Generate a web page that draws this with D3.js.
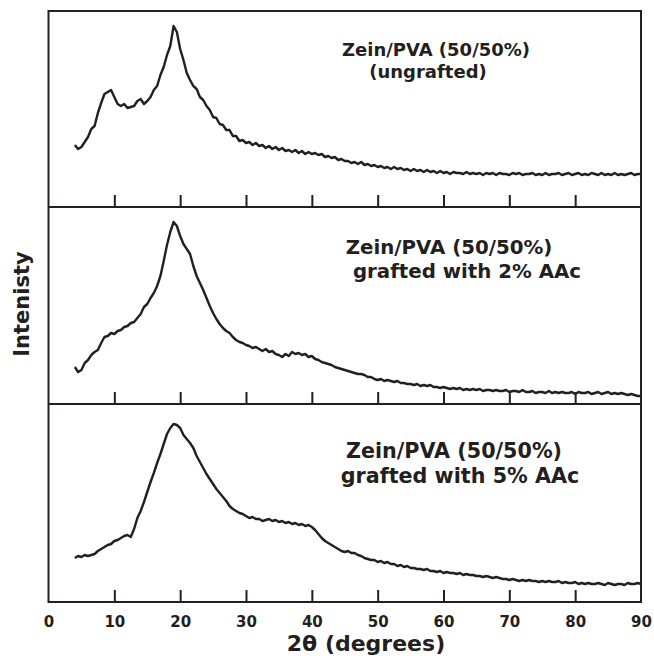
<!DOCTYPE html>
<html><head><meta charset="utf-8">
<script src="https://cdn.jsdelivr.net/npm/d3@7"></script>
<style>
html,body{margin:0;padding:0;background:#fff;}
svg{display:block;}
text{font-family:"DejaVu Sans",sans-serif;font-weight:bold;fill:#231f20;}
</style></head>
<body>
<svg id="chart" width="654" height="658"></svg>
<script>
// 2θ sampling grid (degrees)
const angleStart = 4, angleStep = 0.5;
const xTicks = [0, 10, 20, 30, 40, 50, 60, 70, 80, 90];
const panelLabels = [
  ["Zein/PVA (50/50%)", "(ungrafted)"],
  ["Zein/PVA (50/50%)", "grafted with 2% AAc"],
  ["Zein/PVA (50/50%)", "grafted with 5% AAc"]
];
// Intensity (a.u.) sampled every 0.5° from 4° to 90°
const ungrafted = [
  62,58,60,65,70,78,81,94,104,113,
  115,117,110,103,101,103,99,100,101,106,
  108,103,106,110,117,121,132,140,152,161,
  181,175,158,147,134,127,121,118,110,107,
  101,97,90,89,83,82,77,77,71,71,
  66,67,64,65,62,64,61,62,59,61,
  58,60,57,59,56,57,55,57,54,56,
  53,55,53,54,52,53,50,51,49,50,
  47,48,46,46,44,45,43,45,42,43,
  41,42,40,41,39,40,38,40,38,39,
  37,38,36,38,36,37,35,37,35,36,
  34,36,34,35,33,35,34,34,33,35,
  33,34,33,34,32,34,33,34,32,34,
  33,33,32,34,33,34,32,33,33,34,
  32,33,32,34,32,33,33,34,32,33,
  34,32,33,34,32,33,32,34,33,32,
  34,32,33,32,34,32,33,32,33,34,
  32,33,33
];
const grafted2 = [
  37,32,34,41,44,49,52,54,61,67,
  68,71,70,73,74,77,78,81,82,86,
  90,97,100,106,111,118,128,143,159,172,
  182,178,168,160,155,150,138,128,121,114,
  106,98,91,85,80,76,73,71,67,64,
  62,61,59,58,56,57,55,53,55,52,
  53,50,49,47,50,48,52,50,51,49,
  50,47,48,45,44,42,41,40,39,37,
  36,35,34,33,32,31,30,30,29,27,
  27,25,24,25,23,24,23,22,23,21,
  21,20,20,19,20,18,19,18,19,17,
  17,16,17,16,15,16,15,16,14,15,
  14,15,14,15,13,14,14,13,14,13,
  13,14,12,13,13,12,14,12,12,13,
  11,12,12,11,13,11,12,11,12,11,
  11,12,10,12,11,11,12,10,11,12,
  10,11,12,10,11,10,11,10,9,10,
  9,8,8
];
const grafted5 = [
  44,46,45,47,46,47,48,51,53,55,
  57,58,61,62,64,66,67,65,73,84,
  91,100,110,120,129,139,148,158,168,174,
  178,177,174,167,163,159,154,146,140,134,
  128,123,118,113,109,105,101,96,93,91,
  89,88,86,84,85,83,83,81,82,83,
  81,82,80,81,79,80,78,79,77,78,
  76,77,75,72,68,64,61,59,57,55,
  53,51,50,51,49,49,47,46,44,43,
  42,42,40,41,39,40,38,38,36,37,
  35,36,34,34,33,33,32,33,31,31,
  30,31,29,30,29,29,28,29,27,28,
  27,27,26,26,25,26,25,24,25,24,
  23,23,22,23,22,21,22,21,22,21,
  21,20,21,20,21,20,20,21,19,20,
  19,19,20,18,19,18,19,18,18,19,
  18,17,19,18,17,18,18,17,19,18,
  18,19,18
];
const seriesList = [ungrafted, grafted2, grafted5];

const svg = d3.select("#chart");
const ink = "#231f20";
const left = 48.5, right = 641;
const panelEdges = [11, 207, 404, 602];

const x = d3.scaleLinear().domain([0, 90]).range([left, right]);

seriesList.forEach((vals, i) => {
  const top = panelEdges[i], bottom = panelEdges[i + 1];
  const y = d3.scaleLinear().domain([0, bottom - top]).range([bottom, top]);
  const g = svg.append("g");
  const ax = d3.axisTop(x).tickValues(xTicks.slice(1, -1)).tickSize(12).tickFormat("");
  const axg = g.append("g").attr("transform", `translate(0,${bottom})`).call(ax);
  axg.select(".domain").remove();
  axg.selectAll(".tick line").attr("stroke", ink).attr("stroke-width", 2);

  const data = vals.map((v, k) => [angleStart + k * angleStep, v]);
  g.append("path").datum(data)
    .attr("fill", "none").attr("stroke", ink).attr("stroke-width", 2.4)
    .attr("stroke-linejoin", "round")
    .attr("d", d3.line().x(d => x(d[0])).y(d => y(d[1])));

  const sizes = [18, 19.8, 20.7];
  const pos = [
    [[436, 56], [428, 78]],
    [[449, 254], [467, 278]],
    [[454, 458], [460, 483]]
  ];
  panelLabels[i].forEach((t, j) => {
    g.append("text").attr("x", pos[i][j][0]).attr("y", pos[i][j][1])
      .attr("text-anchor", "middle").style("font-size", sizes[i] + "px").text(t);
  });
});

svg.append("rect").attr("x", left).attr("y", panelEdges[0])
  .attr("width", right - left).attr("height", panelEdges[3] - panelEdges[0])
  .attr("fill", "none").attr("stroke", ink).attr("stroke-width", 2);
[panelEdges[1], panelEdges[2]].forEach(yy => {
  svg.append("line").attr("x1", left).attr("x2", right).attr("y1", yy).attr("y2", yy)
    .attr("stroke", ink).attr("stroke-width", 2);
});

const bx = d3.axisBottom(x).tickValues(xTicks).tickSize(0).tickPadding(14);
const bxg = svg.append("g").attr("transform", `translate(0,${panelEdges[3]})`).call(bx);
bxg.select(".domain").remove();
bxg.selectAll(".tick text").style("font-size", "15px").style("font-family", '"DejaVu Sans",sans-serif')
  .style("font-weight", "bold").attr("fill", ink);

svg.append("text").attr("x", 366).attr("y", 651).attr("text-anchor", "middle")
  .style("font-size", "22px").text("2θ (degrees)");
svg.append("text").attr("transform", "translate(29,304) rotate(-90)")
  .attr("text-anchor", "middle").style("font-size", "21px").text("Intenisty");
</script>
</body></html>
